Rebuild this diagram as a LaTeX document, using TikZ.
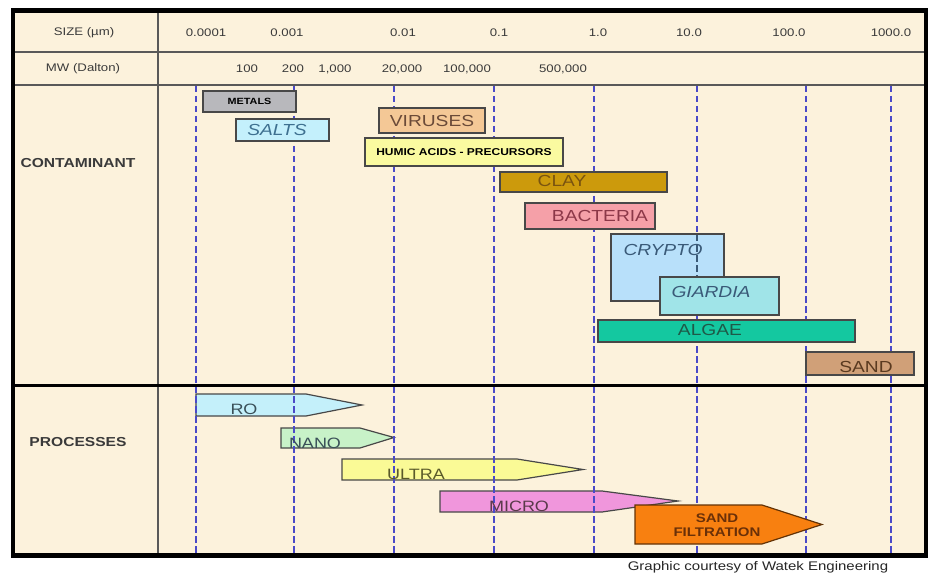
\documentclass[tikz,border=0pt]{standalone}
\usepackage{fontspec}
\setmainfont{Liberation Sans}[FakeStretch=1.2]
\definecolor{cream}{HTML}{FCF2DC}
\definecolor{hdrtxt}{HTML}{3A3A3A}
\definecolor{dashc}{HTML}{4A4AC8}
\definecolor{boxline}{HTML}{484848}
\definecolor{cMetals}{HTML}{B8B8BC}
\definecolor{cSalts}{HTML}{C4F0FC}
\definecolor{cViruses}{HTML}{F4C896}
\definecolor{cHumic}{HTML}{FAFAA0}
\definecolor{cClay}{HTML}{CC9A0C}
\definecolor{cBact}{HTML}{F5A0A8}
\definecolor{cCrypto}{HTML}{B8E0FA}
\definecolor{cGiardia}{HTML}{A0E4E8}
\definecolor{cAlgae}{HTML}{14C8A0}
\definecolor{cSand}{HTML}{D0A078}
\definecolor{cRO}{HTML}{C4F0FA}
\definecolor{cNano}{HTML}{C8F2C8}
\definecolor{cUltra}{HTML}{FAFA96}
\definecolor{cMicro}{HTML}{F096DC}
\definecolor{cSandF}{HTML}{F88010}
\definecolor{tSalts}{HTML}{3E7090}
\definecolor{tViruses}{HTML}{6A4A38}
\definecolor{tClay}{HTML}{7A5410}
\definecolor{tBact}{HTML}{8C3848}
\definecolor{tCrypto}{HTML}{3A5A78}
\definecolor{tAlgae}{HTML}{1E5A48}
\definecolor{tSand}{HTML}{5A3A20}
\definecolor{tRO}{HTML}{3A5058}
\definecolor{tUltra}{HTML}{5A5A2A}
\definecolor{tMicro}{HTML}{5A3A4A}
\definecolor{tSandF}{HTML}{6A3008}
\tikzset{
  hdr/.style={font=\fontsize{11}{13}\selectfont, text=hdrtxt, inner sep=0pt},
  sect/.style={font=\bfseries\fontsize{13}{15}\selectfont, text=hdrtxt, inner sep=0pt},
  cbox/.style={draw=boxline, line width=1.3pt, inner sep=0pt},
  big/.style={font=\fontsize{16}{18}\selectfont, inner sep=0pt},
  bigit/.style={font=\itshape\fontsize{16}{18}\selectfont, inner sep=0pt},
  small/.style={font=\bfseries\fontsize{10}{12}\selectfont, inner sep=0pt},
  ptxt/.style={font=\fontsize{15}{17}\selectfont, inner sep=0pt},
  parrow/.style={draw=boxline, line width=1.2pt},
  dashln/.style={draw=dashc, line width=2pt, dash pattern=on 6.5pt off 3.5pt},
  gridln/.style={draw=black!65, line width=1.3pt}
}
\begin{document}
\begin{tikzpicture}[x=1pt,y=-1pt]
\useasboundingbox (0,0) rectangle (930,575);
\fill[white] (0,0) rectangle (930,575);
\fill[cream] (13,11) rectangle (926,555);
% header grid
\draw[gridln] (13,52) -- (926,52);
\draw[gridln] (13,85) -- (926,85);
\draw[gridln] (158,11) -- (158,555);
% header labels
\node[hdr] (size) at (84,33) {SIZE (µm)};
\node[hdr] (mw) at (83,69) {MW (Dalton)};
\node[hdr] (s1) at (206,33) {0.0001};
\node[hdr] (s2) at (287,33) {0.001};
\node[hdr] (s3) at (403,33) {0.01};
\node[hdr] (s4) at (499,33) {0.1};
\node[hdr] (s5) at (598,33) {1.0};
\node[hdr] (s6) at (689,33) {10.0};
\node[hdr] (s7) at (789,33) {100.0};
\node[hdr] (s8) at (891,33) {1000.0};
\node[hdr] (m1) at (247,69) {100};
\node[hdr] (m2) at (293,69) {200};
\node[hdr] (m3) at (335,69) {1,000};
\node[hdr] (m4) at (402,69) {20,000};
\node[hdr] (m5) at (467,69) {100,000};
\node[hdr] (m6) at (563,69) {500,000};
% section labels
\node[sect] (cont) at (78,163) {CONTAMINANT};
\node[sect] (proc) at (78,442) {PROCESSES};
% process arrows (light ones, under dashed lines)
\draw[parrow, fill=cRO] (196,394) -- (306,394) -- (362,405) -- (306,416) -- (196,416) -- cycle;
\draw[parrow, fill=cNano] (281,428) -- (360,428) -- (394,437.5) -- (360,448) -- (281,448) -- cycle;
\draw[parrow, fill=cUltra] (342,459) -- (517,459) -- (583,469.5) -- (517,480) -- (342,480) -- cycle;
\draw[parrow, fill=cMicro] (440,491) -- (602,491) -- (678,501) -- (602,512) -- (440,512) -- cycle;
% dashed size lines
\foreach \xx in {196,294,394,494,594,697,806,891}
  \draw[dashln] (\xx,86) -- (\xx,553);
% contaminant boxes
\node[cbox, fill=cMetals, minimum width=93pt, minimum height=21pt] (metals) at (249.5,101.5) {};
\node[small] (metalsT) at (249.5,101.5) {\fontsize{9}{11}\selectfont METALS};
\node[cbox, fill=cSalts, minimum width=93pt, minimum height=22pt] (salts) at (282.5,130) {};
\node[bigit, text=tSalts] (saltsT) at (277,130) {SALTS};
\node[cbox, fill=cViruses, minimum width=106pt, minimum height=25pt] (viruses) at (432,120.5) {};
\node[big, text=tViruses] (virusesT) at (432,121) {VIRUSES};
\node[cbox, fill=cHumic, minimum width=198pt, minimum height=28pt] (humic) at (464,152) {};
\node[small] (humicT) at (464,152) {HUMIC ACIDS - PRECURSORS};
\node[cbox, fill=cClay, minimum width=167pt, minimum height=20pt] (clay) at (583.5,182) {};
\node[big, text=tClay] (clayT) at (562,181) {CLAY};
\node[cbox, fill=cBact, minimum width=130pt, minimum height=26pt] (bact) at (590,216) {};
\node[big, text=tBact] (bactT) at (600,216) {BACTERIA};
\node[cbox, fill=cCrypto, minimum width=113pt, minimum height=67pt] (crypto) at (667.5,267.5) {};
\draw[dashln, draw=tCrypto] (697,235) -- (697,277);
\node[bigit, text=tCrypto] (cryptoT) at (663,250) {CRYPTO};
\node[cbox, fill=cGiardia, minimum width=119pt, minimum height=38pt] (giardia) at (719.5,296) {};
\node[bigit, text=tCrypto] (giardiaT) at (711,292) {GIARDIA};
\node[cbox, fill=cAlgae, minimum width=257pt, minimum height=22pt] (algae) at (726.5,331) {};
\node[big, text=tAlgae] (algaeT) at (710,330) {ALGAE};
\node[cbox, fill=cSand, minimum width=108pt, minimum height=23pt] (sand) at (860,363.5) {};
\node[big, text=tSand] (sandT) at (866,366.5) {SAND};
% sand filtration arrow (covers dashed lines)
\draw[parrow, fill=cSandF, draw=black!60!cSandF] (635,505) -- (762,505) -- (822,524.5) -- (762,544) -- (635,544) -- cycle;
% process labels
\node[ptxt, text=tRO] (roT) at (244,409) {RO};
\node[ptxt, text=tRO] (nanoT) at (315,443) {NANO};
\node[ptxt, text=tUltra] (ultraT) at (416,474) {ULTRA};
\node[ptxt, text=tMicro] (microT) at (519,506) {MICRO};
\node[font=\bfseries\fontsize{12.5}{14.5}\selectfont, text=tSandF, align=center, inner sep=0pt] (sandfT) at (717,525) {SAND\\FILTRATION};
% section separator and frame
\draw[line width=3pt] (13,385) -- (926,385);
\draw[line width=4.5pt] (13,10.5) rectangle (926,555.5);
% footer
\node[font=\fontsize{12.5}{14}\selectfont, text=black!85, inner sep=0pt] (credit) at (758,567) {Graphic courtesy of Watek Engineering};
\end{tikzpicture}
\end{document}
